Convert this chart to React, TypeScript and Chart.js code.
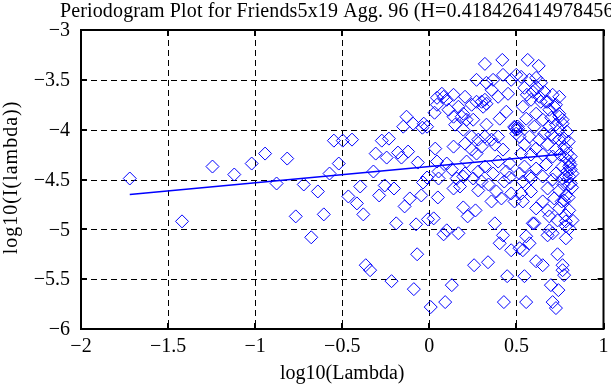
import React, { useEffect, useRef } from 'react';
import { Chart, registerables } from 'chart.js';

Chart.register(...registerables);

const TITLE = 'Periodogram Plot for Friends5x19 Agg. 96 (H=0.418426414978456)';
const X_LABEL = 'log10(Lambda)';
const Y_LABEL = 'log10(I(lambda))';
const X_TICKS = [-2, -1.5, -1, -0.5, 0, 0.5, 1];
const Y_TICKS = [-6, -5.5, -5, -4.5, -4, -3.5, -3];

// fitted regression line (x, y end points)
const FIT_X = [-1.72, 0.77];
const FIT_Y = [-4.65, -4.244];

// periodogram points, [log10(lambda), log10(I(lambda))]
const PTS_LOW: [number, number][] = [
  [-1.72, -4.49], [-1.42, -4.92], [-1.245, -4.37], [-1.12, -4.45], [-1.02, -4.34],
  [-0.943, -4.24], [-0.877, -4.54], [-0.816, -4.29], [-0.767, -4.87], [-0.721, -4.55],
  [-0.678, -5.08], [-0.64, -4.62], [-0.606, -4.85], [-0.573, -4.44], [-0.548, -4.11],
  [-0.52, -4.34], [-0.497, -4.11], [-0.465, -4.67], [-0.444, -4.1], [-0.416, -4.74],
  [-0.397, -4.57], [-0.379, -4.85], [-0.365, -5.36], [-0.34, -5.41], [-0.321, -4.42],
  [-0.308, -4.24], [-0.288, -4.66], [-0.273, -4.11], [-0.256, -4.56], [-0.245, -4.28],
  [-0.232, -4.09], [-0.217, -5.52], [-0.203, -4.59], [-0.19, -4.94], [-0.18, -4.23],
  [-0.16, -4.28], [-0.15, -3.97], [-0.142, -4.77], [-0.131, -3.87], [-0.122, -4.22],
  [-0.112, -4.69], [-0.093, -3.94], [-0.089, -5.6], [-0.076, -4.95], [-0.07, -5.25],
  [-0.066, -4.33], [-0.046, -4.66], [-0.04, -3.98], [-0.036, -4.53], [-0.032, -3.94],
  [-0.013, -3.97], [-0.013, -4.48], [-0.008, -4.9], [0.008, -5.78],
];

const PTS_MID: [number, number][] = [
  [0.319, -3.34], [0.419, -3.3], [0.271, -3.5], [0.328, -3.53], [0.366, -3.5],
  [0.423, -3.45], [0.47, -3.5], [0.499, -3.45], [0.357, -3.6], [0.3, -3.72],
  [0.328, -3.74], [0.395, -3.67], [0.442, -3.82], [0.452, -3.64], [0.243, -3.75],
  [0.205, -3.67], [0.167, -3.77], [0.082, -3.67], [0.044, -3.75], [0.11, -3.8],
  [0.186, -3.87], [0.148, -3.95], [0.252, -3.9], [0.328, -3.95], [0.404, -3.89],
  [0.489, -3.97], [0.499, -4.04], [0.243, -4.07], [0.281, -4.1], [0.319, -4.07],
  [0.357, -4.1], [0.395, -4.07], [0.205, -4.14], [0.243, -4.2], [0.3, -4.17],
  [0.376, -4.15], [0.423, -4.2], [0.034, -4.19], [0.139, -4.17], [0.044, -4.32],
  [0.1, -4.34], [0.214, -4.32], [0.271, -4.24], [0.319, -4.37], [0.395, -4.32],
  [0.461, -4.34], [0.053, -4.42], [0.129, -4.4], [0.205, -4.44], [0.281, -4.42],
  [0.366, -4.44], [0.442, -4.42], [0.03, -3.83], [0.044, -3.68], [0.072, -3.64],
  [0.1, -3.7], [0.139, -3.65], [0.195, -3.84], [0.139, -3.87], [0.214, -3.9],
  [0.271, -3.72], [0.309, -3.77], [0.319, -3.7], [0.195, -4.0], [0.49, -3.98],
  [0.51, -3.99], [0.053, -4.49], [0.157, -4.49], [0.195, -4.47], [0.252, -4.49],
  [0.049, -4.68], [0.139, -4.59], [0.176, -4.57], [0.281, -4.61], [0.385, -4.62],
  [0.414, -4.69], [0.47, -4.64], [0.489, -4.72], [0.357, -4.72], [0.195, -4.78],
  [0.265, -4.81], [0.22, -4.87], [0.025, -4.89], [0.376, -4.94], [0.1, -5.01],
  [0.082, -5.05], [0.167, -5.04], [0.423, -5.06], [0.404, -5.14], [0.47, -5.21],
  [0.257, -5.36], [0.337, -5.33], [0.447, -5.47], [0.129, -5.56], [0.091, -5.73],
  [0.428, -5.73], [0.3, -4.52], [0.34, -4.55], [0.43, -4.52], [0.46, -4.48],
];

const PTS_HIGH: [number, number][] = [
  [0.565, -3.3], [0.628, -3.36], [0.527, -3.47], [0.575, -3.5], [0.613, -3.48],
  [0.641, -3.53], [0.546, -3.58], [0.594, -3.62], [0.584, -3.7], [0.632, -3.67],
  [0.67, -3.72], [0.708, -3.65], [0.717, -3.77], [0.689, -3.8], [0.746, -3.87],
  [0.765, -3.94], [0.727, -3.95], [0.537, -3.77], [0.556, -3.89], [0.613, -3.84],
  [0.651, -3.9], [0.603, -3.97], [0.508, -3.97], [0.689, -3.97], [0.746, -4.0],
  [0.66, -4.04], [0.518, -4.07], [0.575, -4.07], [0.546, -4.15], [0.632, -4.1],
  [0.613, -4.19], [0.679, -4.15], [0.746, -4.1], [0.774, -4.17], [0.793, -4.24],
  [0.727, -4.2], [0.527, -4.24], [0.584, -4.25], [0.651, -4.25], [0.708, -4.27],
  [0.803, -4.32], [0.765, -4.37], [0.67, -4.35], [0.613, -4.39], [0.546, -4.37],
  [0.812, -4.4], [0.784, -4.47], [0.727, -4.44], [0.651, -4.47], [0.575, -4.47],
  [0.518, -4.44], [0.746, -3.67], [0.727, -3.75], [0.746, -3.84], [0.765, -3.9],
  [0.774, -4.09], [0.784, -4.19], [0.812, -4.27], [0.803, -4.37], [0.822, -4.44],
  [0.812, -4.54], [0.537, -4.52], [0.584, -4.49], [0.708, -4.5], [0.765, -4.49],
  [0.803, -4.47], [0.527, -4.64], [0.584, -4.62], [0.679, -4.59], [0.746, -4.61],
  [0.784, -4.66], [0.717, -4.69], [0.651, -4.72], [0.537, -4.72], [0.613, -4.79],
  [0.679, -4.81], [0.746, -4.79], [0.784, -4.86], [0.736, -4.91], [0.689, -4.87],
  [0.594, -4.94], [0.689, -5.01], [0.784, -4.92], [0.803, -4.99], [0.679, -5.06],
  [0.708, -5.04], [0.556, -5.07], [0.575, -5.14], [0.518, -5.19], [0.784, -5.09],
  [0.736, -5.25], [0.613, -5.32], [0.651, -5.36], [0.765, -5.36], [0.765, -5.41],
  [0.774, -5.46], [0.546, -5.47], [0.698, -5.56], [0.741, -5.61], [0.556, -5.73],
  [0.708, -5.73], [0.727, -5.79], [0.537, -5.21], [0.603, -4.94], [0.822, -4.91],
  [0.774, -4.71], [0.803, -4.81], [0.784, -4.97], [0.79, -4.02], [0.8, -4.12],
  [0.78, -4.28], [0.81, -4.35], [0.79, -4.42], [0.8, -4.55], [0.82, -4.58],
  [0.77, -4.55], [0.76, -4.72], [0.8, -4.68], [0.72, -4.08], [0.7, -4.05],
  [0.75, -4.25], [0.7, -3.88], [0.68, -3.72], [0.66, -3.62], [0.64, -3.72],
  [0.62, -3.58], [0.56, -3.65], [0.5, -4.0],
];

const FONT = '20px "Liberation Serif", "Times New Roman", serif';
const fmt = (v: number) => (v < 0 ? '\u2212' : '') + String(Math.abs(v));

const matlabFrame = {
  id: 'matlabFrame',
  beforeDatasetsDraw(chart: any) {
    const { ctx, chartArea: a, scales } = chart;
    const xs = scales.x, ys = scales.y;
    ctx.save();
    ctx.strokeStyle = '#000';
    ctx.lineWidth = 1;
    ctx.setLineDash([6, 4]);
    X_TICKS.slice(1, -1).forEach((v) => {
      const px = Math.round(xs.getPixelForValue(v)) + 0.5;
      ctx.beginPath(); ctx.moveTo(px, a.top); ctx.lineTo(px, a.bottom); ctx.stroke();
    });
    Y_TICKS.slice(1, -1).forEach((v) => {
      const py = Math.round(ys.getPixelForValue(v)) + 0.5;
      ctx.beginPath(); ctx.moveTo(a.left, py); ctx.lineTo(a.right, py); ctx.stroke();
    });
    ctx.restore();
  },
  afterDatasetsDraw(chart: any) {
    const { ctx, chartArea: a, scales } = chart;
    const xs = scales.x, ys = scales.y;
    ctx.save();
    ctx.strokeStyle = '#000';
    ctx.lineWidth = 2;
    ctx.setLineDash([]);
    ctx.strokeRect(a.left, a.top, a.right - a.left, a.bottom - a.top);
    const TL = 6;
    X_TICKS.forEach((v) => {
      const px = Math.round(xs.getPixelForValue(v));
      ctx.beginPath();
      ctx.moveTo(px, a.bottom); ctx.lineTo(px, a.bottom - TL);
      ctx.moveTo(px, a.top); ctx.lineTo(px, a.top + TL);
      ctx.stroke();
    });
    Y_TICKS.forEach((v) => {
      const py = Math.round(ys.getPixelForValue(v));
      ctx.beginPath();
      ctx.moveTo(a.left, py); ctx.lineTo(a.left + TL, py);
      ctx.moveTo(a.right, py); ctx.lineTo(a.right - TL, py);
      ctx.stroke();
    });

    ctx.fillStyle = '#000';
    ctx.font = FONT;
    // title
    ctx.textAlign = 'left';
    ctx.textBaseline = 'alphabetic';
    ctx.letterSpacing = '0.13px';
    ctx.fillText(TITLE, 60, 17);
    ctx.letterSpacing = '0px';
    // x tick labels
    ctx.textAlign = 'center';
    X_TICKS.forEach((v) => {
      ctx.fillText(fmt(v), xs.getPixelForValue(v), a.bottom + 23);
    });
    // y tick labels
    ctx.textAlign = 'right';
    ctx.textBaseline = 'middle';
    Y_TICKS.forEach((v) => {
      ctx.fillText(fmt(v), a.left - 11, ys.getPixelForValue(v) + 1);
    });
    // x label
    ctx.textAlign = 'center';
    ctx.textBaseline = 'alphabetic';
    ctx.fillText(X_LABEL, (a.left + a.right) / 2, a.bottom + 50);
    // y label
    ctx.translate(17, (a.top + a.bottom) / 2 - 2);
    ctx.rotate(-Math.PI / 2);
    ctx.letterSpacing = '1px';
    ctx.fillText(Y_LABEL, 0, 0);
    ctx.restore();
  },
};

const toPts = (arr: [number, number][]) => arr.map(([x, y]) => ({ x, y }));

export default function App() {
  const ref = useRef<HTMLCanvasElement | null>(null);
  useEffect(() => {
    document.body.style.margin = '0';
    const canvas = ref.current;
    if (!canvas) return;
    const pointStyle = {
      type: 'scatter' as const,
      pointStyle: 'rectRot',
      pointRadius: 6.5,
      pointBorderWidth: 1,
      borderColor: '#0000ff',
      backgroundColor: 'rgba(0,0,0,0)',
      pointBackgroundColor: 'rgba(0,0,0,0)',
    };
    const chart = new Chart(canvas, {
      type: 'scatter',
      data: {
        datasets: [
          { ...pointStyle, label: 'low', data: toPts(PTS_LOW) },
          { ...pointStyle, label: 'mid', data: toPts(PTS_MID) },
          { ...pointStyle, label: 'high', data: toPts(PTS_HIGH) },
          {
            type: 'line',
            label: 'fit',
            data: FIT_X.map((x, i) => ({ x, y: FIT_Y[i] })),
            borderColor: '#0000ff',
            borderWidth: 1.5,
            pointRadius: 0,
            fill: false,
          } as any,
        ],
      },
      options: {
        responsive: false,
        animation: false,
        devicePixelRatio: 1,
        layout: { padding: { left: 81, right: 3, top: 30, bottom: 56 } },
        scales: {
          x: { type: 'linear', min: -2, max: 1, display: false },
          y: { type: 'linear', min: -6, max: -3, display: false },
        },
        plugins: { legend: { display: false }, tooltip: { enabled: false }, title: { display: false } },
      } as any,
      plugins: [matlabFrame],
    });
    return () => chart.destroy();
  }, []);
  return (
    <div style={{ width: 611, height: 385, background: '#fff' }}>
      <canvas ref={ref} width={611} height={385} style={{ display: 'block', width: 611, height: 385 }} />
    </div>
  );
}
